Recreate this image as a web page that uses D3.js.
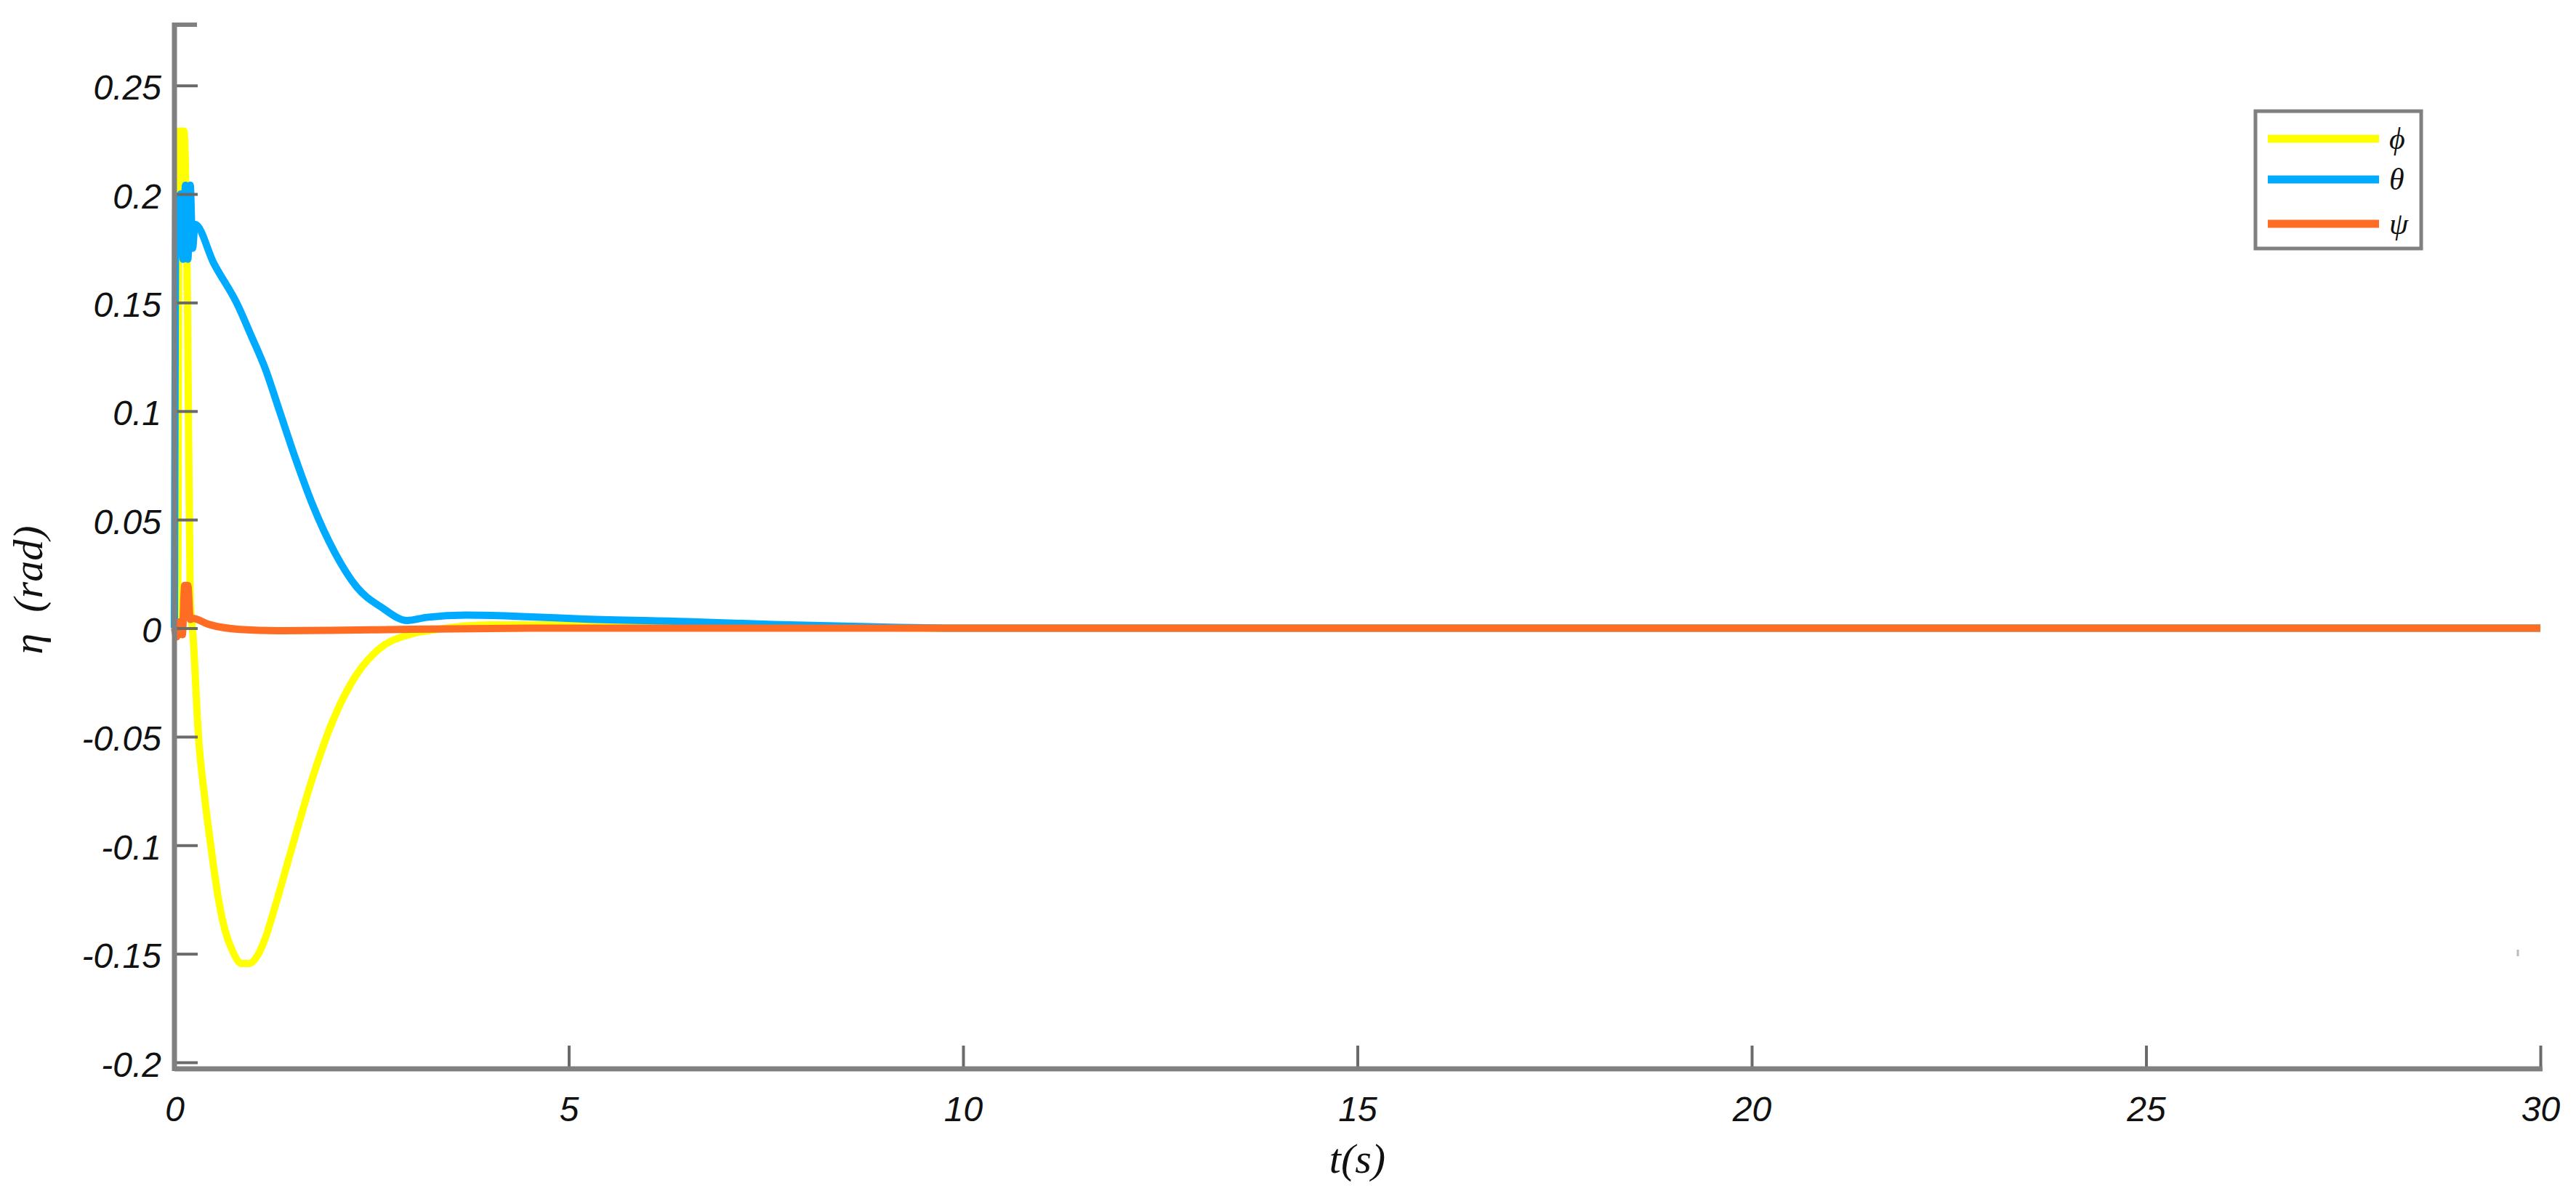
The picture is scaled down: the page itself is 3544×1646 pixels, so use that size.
<!DOCTYPE html>
<html>
<head>
<meta charset="utf-8">
<script src="https://cdn.jsdelivr.net/npm/d3@7"></script>
<style>
  html, body { margin: 0; padding: 0; background: #fff; overflow: hidden; }
  svg { display: block; }
</style>
</head>
<body>
<svg id="chart" width="3544" height="1646"></svg>
<script>
// ---------------- data ----------------
const seriesNames = ["ϕ", "θ", "ψ"];
const seriesColors = ["#FFFF00", "#00AAFF", "#FF6C24"];

const phiT = [0, 0.04, 0.06, 0.12, 0.165, 0.2, 0.235, 0.305, 0.38, 0.46, 0.55, 0.64, 0.74, 0.85, 0.95, 1.05, 1.15, 1.27, 1.48, 1.75, 2.01, 2.28, 2.59, 2.97, 3.34, 4.0, 5.0, 6.0, 7.5, 10, 30];
const phiV = [0, 0, 0.229, 0.229, 0.15, 0.013, -0.003, -0.05, -0.077, -0.1, -0.123, -0.139, -0.149, -0.1545, -0.1545, -0.151, -0.143, -0.129, -0.1024, -0.069, -0.0425, -0.023, -0.0097, -0.003, -0.0005, 0.0015, 0.0015, 0.001, 0.0005, 0, 0];

const thetaT = [0, 0.02, 0.05, 0.08, 0.11, 0.14, 0.17, 0.2, 0.23, 0.26, 0.5, 0.8, 0.97, 1.15, 1.33, 1.54, 1.75, 2.03, 2.31, 2.63, 2.95, 3.2, 3.7, 4.4, 5.2, 6.5, 7.6, 9, 10, 30];
const thetaV = [0, 0.199, 0.175, 0.2, 0.17, 0.204, 0.17, 0.204, 0.175, 0.186, 0.168, 0.149, 0.135, 0.1197, 0.1003, 0.0776, 0.057, 0.035, 0.019, 0.0095, 0.0035, 0.005, 0.006, 0.0054, 0.0042, 0.003, 0.0017, 0.0005, 0, 0];

const psiT = [0, 0.03, 0.07, 0.1, 0.13, 0.17, 0.2, 0.23, 0.43, 0.83, 1.3, 2.0, 3.0, 4.5, 30];
const psiV = [0, -0.004, 0.003, -0.003, 0.0197, 0.0197, 0.004, 0.0045, 0.0018, -0.0006, -0.0012, -0.001, -0.0005, 0, 0];

const xTicks = [0, 5, 10, 15, 20, 25, 30];
const yTicks = [-0.2, -0.15, -0.1, -0.05, 0, 0.05, 0.1, 0.15, 0.2, 0.25];
const xDomain = [0, 30];
const yDomain = [-0.203, 0.278];
const xTitle = "t(s)";
const yTitle = "η  (rad)";

// ---------------- layout ----------------
const svg = d3.select("#chart");
const plotL = 240, plotR = 3495, plotT = 34, plotB = 1471;
const axisColor = "#808080";

const x = d3.scaleLinear().domain(xDomain).range([plotL, plotR]);
const y = d3.scaleLinear().domain(yDomain).range([plotB, plotT]);

svg.append("rect").attr("width", 3544).attr("height", 1646).attr("fill", "#fff");

// series
const series = [
  { t: phiT, v: phiV },
  { t: thetaT, v: thetaV },
  { t: psiT, v: psiV }
];
const line = d3.line().x(d => x(d[0])).y(d => y(d[1])).curve(d3.curveMonotoneX);
series.forEach((s, i) => {
  const pts = s.t.map((t, j) => [t, s.v[j]]);
  svg.append("path")
    .attr("d", line(pts))
    .attr("fill", "none")
    .attr("stroke", seriesColors[i])
    .attr("stroke-width", 10)
    .attr("stroke-linejoin", "round");
});

// y axis ticks + labels
const yAxis = d3.axisLeft(y).tickValues(yTicks)
  .tickSizeInner(-32).tickSizeOuter(0).tickPadding(18)
  .tickFormat(d => String(+d.toFixed(2)));
const gy = svg.append("g").attr("transform", `translate(${plotL},0)`).call(yAxis);
gy.select(".domain").remove();
gy.selectAll(".tick line").attr("stroke", "#6a6a6a").attr("stroke-width", 4);
gy.selectAll(".tick text")
  .attr("dy", null).attr("y", 19)
  .attr("font-family", "'Liberation Sans', Arial, sans-serif")
  .attr("font-style", "italic")
  .attr("font-size", 48)
  .attr("fill", "#111");

// x axis ticks + labels
const xAxis = d3.axisBottom(x).tickValues(xTicks)
  .tickSizeInner(-32).tickSizeOuter(0).tickPadding(0)
  .tickFormat(d => String(d));
const gx = svg.append("g").attr("transform", `translate(0,${plotB})`).call(xAxis);
gx.select(".domain").remove();
gx.selectAll(".tick line").attr("stroke", "#6a6a6a").attr("stroke-width", 4);
gx.selectAll(".tick text")
  .attr("dy", null).attr("y", 72)
  .attr("font-family", "'Liberation Sans', Arial, sans-serif")
  .attr("font-style", "italic")
  .attr("font-size", 48)
  .attr("fill", "#111");

// axis lines (left + bottom) and top stub
svg.append("line").attr("x1", plotL).attr("x2", plotL).attr("y1", plotT - 3).attr("y2", plotB + 3)
  .attr("stroke", axisColor).attr("stroke-width", 7);
svg.append("line").attr("x1", plotL).attr("x2", plotR + 3).attr("y1", plotB).attr("y2", plotB)
  .attr("stroke", axisColor).attr("stroke-width", 7);
svg.append("line").attr("x1", plotL).attr("x2", plotL + 31).attr("y1", y(yDomain[1])).attr("y2", y(yDomain[1]))
  .attr("stroke", axisColor).attr("stroke-width", 6);

// small stray mark near the lower right of the reference plot
svg.append("line").attr("x1", 3464).attr("x2", 3464).attr("y1", 1307).attr("y2", 1316)
  .attr("stroke", "#bbb").attr("stroke-width", 3);

// axis titles
svg.append("text")
  .attr("x", (plotL + plotR) / 2).attr("y", 1614)
  .attr("text-anchor", "middle")
  .attr("font-family", "'Liberation Serif', 'DejaVu Serif', serif")
  .attr("font-style", "italic")
  .attr("font-size", 58)
  .attr("fill", "#111")
  .text(xTitle);

svg.append("text")
  .attr("transform", "translate(58,812) rotate(-90)")
  .attr("text-anchor", "middle")
  .attr("font-family", "'Liberation Serif', 'DejaVu Serif', serif")
  .attr("font-style", "italic")
  .attr("font-size", 58)
  .attr("fill", "#111")
  .style("white-space", "pre")
  .text(yTitle);

// legend
const lg = svg.append("g");
lg.append("rect").attr("x", 3103).attr("y", 153).attr("width", 228).attr("height", 189)
  .attr("fill", "#fff").attr("stroke", axisColor).attr("stroke-width", 5);
const legendRows = [191, 247, 308];
seriesNames.forEach((name, i) => {
  lg.append("line").attr("x1", 3120).attr("x2", 3273)
    .attr("y1", legendRows[i]).attr("y2", legendRows[i])
    .attr("stroke", seriesColors[i]).attr("stroke-width", 11);
  lg.append("text").attr("x", 3287).attr("y", legendRows[i] + 14)
    .attr("font-family", "'Liberation Serif', 'DejaVu Serif', serif")
    .attr("font-style", "italic")
    .attr("font-size", 42)
    .attr("fill", "#111")
    .text(name);
});
</script>
</body>
</html>
